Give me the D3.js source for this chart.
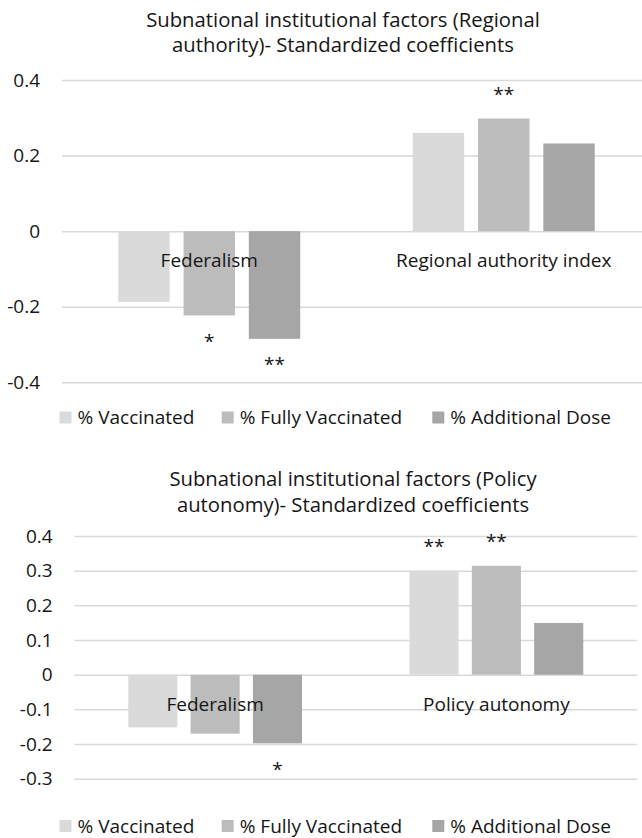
<!DOCTYPE html>
<html lang="en">
<head>
  <meta charset="utf-8">
  <title>Subnational institutional factors - Standardized coefficients</title>
  <style>
  html, body {padding: 0; margin: 0; overflow: hidden; background: #fff}
  svg text {font-family: "Open Sans", sans-serif; fill: #161616}
</style>
</head>
<body>
  <svg width="642" height="838"></svg>
  <script src="https://d3js.org/d3.v7.min.js"></script>
  <script>

  var seriesNames = ["% Vaccinated", "% Fully Vaccinated", "% Additional Dose"];
  var seriesColors = ["#d9dad9", "#bcbcbc", "#a6a6a6"];

  // regional authority model
  var raTitle = ["Subnational institutional factors (Regional", "authority)- Standardized coefficients"];
  var raCategories = ["Federalism", "Regional authority index"];
  var raVaccinated = [-0.187, 0.260];
  var raFully = [-0.223, 0.298];
  var raAdditional = [-0.285, 0.232];
  var raStarsVaccinated = ["", ""];
  var raStarsFully = ["*", "**"];
  var raStarsAdditional = ["**", ""];
  var raTicks = [-0.4, -0.2, 0, 0.2, 0.4];

  // policy autonomy model
  var paTitle = ["Subnational institutional factors (Policy", "autonomy)- Standardized coefficients"];
  var paCategories = ["Federalism", "Policy autonomy"];
  var paVaccinated = [-0.152, 0.300];
  var paFully = [-0.170, 0.314];
  var paAdditional = [-0.198, 0.149];
  var paStarsVaccinated = ["", "**"];
  var paStarsFully = ["", "**"];
  var paStarsAdditional = ["*", ""];
  var paTicks = [-0.3, -0.2, -0.1, 0, 0.1, 0.2, 0.3, 0.4];

  var svg = d3.select("svg");

  drawChart({
    title: raTitle, categories: raCategories,
    values: [raVaccinated, raFully, raAdditional],
    stars: [raStarsVaccinated, raStarsFully, raStarsAdditional],
    ticks: raTicks,
    left: 62, right: 651, top: 80, bottom: 382.3, labelRight: 40,
    titleX: 343, titleY: 26.7, legendY: 417.5
  });

  drawChart({
    title: paTitle, categories: paCategories,
    values: [paVaccinated, paFully, paAdditional],
    stars: [paStarsVaccinated, paStarsFully, paStarsAdditional],
    ticks: paTicks,
    left: 74.5, right: 637, top: 536, bottom: 778.7, labelRight: 52.7,
    titleX: 353, titleY: 486, legendY: 826
  });

  function drawChart(c) {
    var g = svg.append("g");

    var y = d3.scaleLinear()
      .domain(d3.extent(c.ticks))
      .range([c.bottom, c.top]);

    var x0 = d3.scaleBand()
      .domain(c.categories)
      .range([c.left, c.right]);

    // excel-ish: gap width ~219%, series overlap -27%
    var x1 = d3.scaleBand()
      .domain(d3.range(seriesNames.length))
      .range([0, x0.bandwidth()])
      .paddingInner(0.27 / 1.27)
      .paddingOuter(1.095 / 1.27);

    var axis = d3.axisLeft(y)
      .tickValues(c.ticks)
      .tickSize(-(c.right - c.left))
      .tickPadding(c.left - c.labelRight)
      .tickFormat(function(d) { return d === 0 ? "0" : String(d); });

    g.append("g")
      .attr("transform", "translate(" + c.left + ",0)")
      .call(axis)
      .call(function(a) {
        a.select(".domain").remove();
        a.selectAll(".tick line").attr("stroke", "#d9d9d9").attr("stroke-width", 1.5);
        a.selectAll(".tick text")
          .attr("font-family", null)
          .attr("font-size", null)
          .attr("fill", null)
          .style("font-size", "19px");
      });

    var bars = [];
    c.values.forEach(function(vals, s) {
      vals.forEach(function(v, i) {
        bars.push({s: s, cat: c.categories[i], value: v, star: c.stars[s][i]});
      });
    });

    g.selectAll("rect.bar")
      .data(bars)
      .join("rect")
      .attr("class", "bar")
      .attr("x", function(d) { return x0(d.cat) + x1(d.s); })
      .attr("width", x1.bandwidth())
      .attr("y", function(d) { return y(Math.max(0, d.value)); })
      .attr("height", function(d) { return Math.abs(y(d.value) - y(0)); })
      .attr("fill", function(d) { return seriesColors[d.s]; });

    g.selectAll("text.star")
      .data(bars.filter(function(d) { return d.star; }))
      .join("text")
      .attr("class", "star")
      .attr("text-anchor", "middle")
      .style("font-size", "19px")
      .attr("x", function(d) { return x0(d.cat) + x1(d.s) + x1.bandwidth() / 2; })
      .attr("y", function(d) { return d.value < 0 ? y(d.value) + 32.5 : y(d.value) - 18; })
      .text(function(d) { return d.star; });

    g.selectAll("text.cat")
      .data(c.categories)
      .join("text")
      .attr("class", "cat")
      .attr("text-anchor", "middle")
      .style("font-size", "19px")
      .attr("x", function(d) { return x0(d) + x0.bandwidth() / 2; })
      .attr("y", y(0) + 36)
      .text(function(d) { return d; });

    // two-line title, one text element
    g.append("text")
      .attr("class", "title")
      .attr("text-anchor", "middle")
      .style("font-size", "20.3px")
      .attr("y", c.titleY)
      .selectAll("tspan")
      .data(c.title)
      .join("tspan")
      .attr("x", c.titleX)
      .attr("dy", function(d, i) { return i ? 25.5 : 0; })
      .text(function(d) { return d; });

    // legend squares sit where excel put them
    var legendX = [59.5, 221.7, 432.3];
    var item = g.selectAll("g.legend")
      .data(seriesNames)
      .join("g")
      .attr("class", "legend")
      .attr("transform", function(d, i) { return "translate(" + legendX[i] + "," + c.legendY + ")"; });

    item.append("rect")
      .attr("y", -6)
      .attr("width", 12)
      .attr("height", 12)
      .attr("fill", function(d, i) { return seriesColors[i]; });

    item.append("text")
      .attr("x", 18)
      .attr("y", 6.5)
      .style("font-size", "19px")
      .text(function(d) { return d; });
  }

  </script>
</body>
</html>
